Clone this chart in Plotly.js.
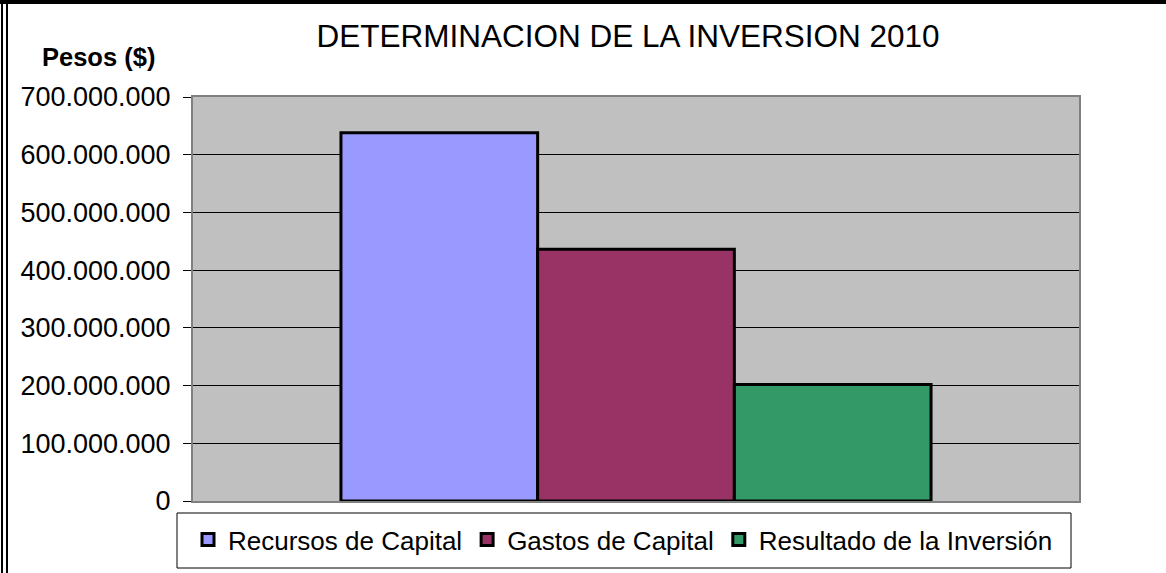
<!DOCTYPE html>
<html>
<head>
<meta charset="utf-8">
<script src="https://cdn.plot.ly/plotly-3.0.1.min.js"></script>
<style>
  html, body { margin: 0; padding: 0; background: #fff; }
  #wrap { position: relative; width: 1166px; height: 573px; }
  #chart { width: 1166px; height: 573px; }
  #ftop { position: absolute; left: 0; top: 0; width: 1166px; height: 4px; background: #000; }
  #fleft { position: absolute; left: 1px; top: 0; width: 7px; height: 573px; border-left: 2px solid #000; border-right: 2px solid #000; box-sizing: border-box; }
</style>
</head>
<body>
<div id="wrap">
  <div id="chart"></div>
  <div id="ftop"></div>
  <div id="fleft"></div>
</div>
<script>
const categories = ["2010"];
const seriesNames = ["Recursos de Capital", "Gastos de Capital", "Resultado de la Inversión"];
const recursos = [638000000];
const gastos = [436000000];
const resultado = [202000000];
const seriesValues = [recursos, gastos, resultado];
const seriesColors = ["#9999FF", "#993366", "#339966"];
const tickVals = [0, 100000000, 200000000, 300000000, 400000000, 500000000, 600000000, 700000000];
const tickText = ["0", "100.000.000", "200.000.000", "300.000.000", "400.000.000", "500.000.000", "600.000.000", "700.000.000"];

const FONT = "Liberation Sans, Arial, sans-serif";

const traces = seriesNames.map((name, i) => ({
  type: "bar",
  name: name,
  x: categories,
  y: seriesValues[i],
  marker: { color: seriesColors[i], line: { color: "#000", width: 3 } },
  hoverinfo: "y+name"
}));

const plotW = 886, plotH = 404;

const layout = {
  width: 1166,
  height: 573,
  margin: { l: 193, r: 87, t: 97, b: 72, autoexpand: false },
  paper_bgcolor: "#fff",
  plot_bgcolor: "#C0C0C0",
  font: { family: FONT, color: "#000" },
  barmode: "group",
  bargap: 0.334,
  bargroupgap: 0,
  title: {
    text: "DETERMINACION DE LA INVERSION 2010",
    font: { family: FONT, size: 31.5, color: "#000" },
    x: 628 / 1166,
    xanchor: "center",
    y: 1 - 36 / 573,
    yanchor: "middle"
  },
  xaxis: {
    type: "category",
    showticklabels: false,
    ticks: "",
    showgrid: false,
    showline: true,
    linecolor: "#808080",
    linewidth: 2,
    mirror: true,
    fixedrange: true
  },
  yaxis: {
    range: [0, 700000000],
    tickvals: tickVals,
    ticktext: tickText,
    tickfont: { family: FONT, size: 27, color: "#000" },
    ticks: "outside",
    ticklen: 8,
    tickcolor: "#000",
    tickwidth: 1,
    ticklabelstandoff: 7,
    showgrid: true,
    gridcolor: "#000",
    gridwidth: 1,
    zeroline: false,
    showline: true,
    linecolor: "#808080",
    linewidth: 2,
    mirror: true,
    fixedrange: true
  },
  showlegend: true,
  legend: {
    orientation: "h",
    x: (188 - 193) / plotW,
    xanchor: "left",
    y: -(516 - 501) / plotH,
    yanchor: "top",
    bgcolor: "rgba(0,0,0,0)",
    borderwidth: 0,
    font: { family: FONT, size: 26, color: "#000" },
    traceorder: "normal",
    itemwidth: 30
  },
  shapes: [{
    type: "rect",
    xref: "paper", yref: "paper",
    x0: (177 - 193) / plotW, x1: (1071 - 193) / plotW,
    y0: -(513 - 501) / plotH, y1: -(568 - 501) / plotH,
    line: { color: "#000", width: 1 },
    fillcolor: "#fff",
    layer: "below"
  }],
  annotations: [{
    text: "<b>Pesos ($)</b>",
    xref: "paper", yref: "paper",
    x: (98 - 193) / plotW, y: (501 - 57) / plotH,
    xanchor: "center", yanchor: "middle",
    showarrow: false,
    font: { family: FONT, size: 25.5, color: "#000" }
  }]
};

Plotly.newPlot("chart", traces, layout, { displayModeBar: false, staticPlot: true });
</script>
</body>
</html>
